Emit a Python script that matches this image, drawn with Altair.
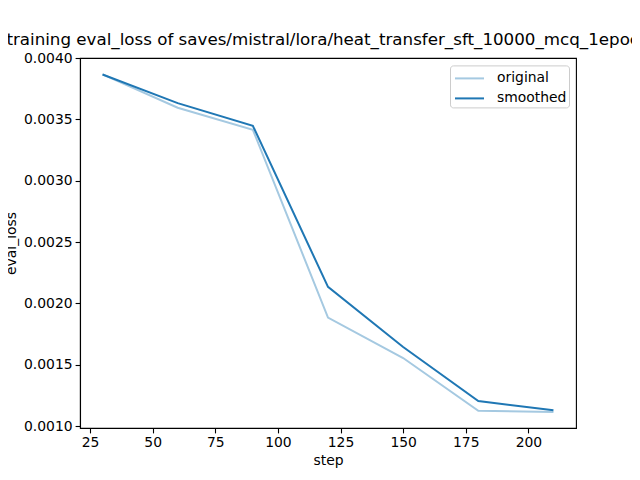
import altair as alt
import pandas as pd

steps = [30, 60, 90, 120, 150, 180, 210]
original = [0.003866, 0.003595, 0.003415, 0.001885, 0.001555, 0.001125, 0.001115]
smoothed = [0.003866, 0.003632, 0.003448, 0.002135, 0.001645, 0.001205, 0.001130]
series = ["original", "smoothed"]
colors = ["#a5c9e1", "#1f77b4"]
x_ticks = [25, 50, 75, 100, 125, 150, 175, 200]
y_ticks = [0.0010, 0.0015, 0.0020, 0.0025, 0.0030, 0.0035, 0.0040]

rows = []
for name, vals in zip(series, [original, smoothed]):
    for s, v in zip(steps, vals):
        rows.append({"step": s, "eval_loss": v, "series": name})
df = pd.DataFrame(rows)

font = "DejaVu Sans"

chart = alt.Chart(df).mark_line(strokeWidth=2).encode(
    x=alt.X("step:Q",
            scale=alt.Scale(domain=[21, 219], nice=False, zero=False),
            axis=alt.Axis(values=x_ticks, title="step", grid=False, format="d")),
    y=alt.Y("eval_loss:Q",
            scale=alt.Scale(domain=[0.000985, 0.0040], nice=False, zero=False),
            axis=alt.Axis(values=y_ticks, title="eval_loss", grid=False, format=".4f")),
    color=alt.Color("series:N",
                    scale=alt.Scale(domain=series, range=colors),
                    legend=alt.Legend(title=None, orient="none", legendX=370, legendY=7.4,
                                      symbolType="M-1.45,0H1.45", symbolSize=400, symbolStrokeWidth=2,
                                      symbolOffset=6.5,
                                      labelFontSize=13.9, labelFont=font, labelColor="black",
                                      fillColor="white", strokeColor="#cccccc", cornerRadius=3,
                                      padding=2, rowPadding=2, labelOffset=16.5)),
    order=alt.Order("series:N"),
    detail="series:N",
).properties(
    width=496, height=370,
    title=alt.TitleParams("training eval_loss of saves/mistral/lora/heat_transfer_sft_10000_mcq_1epoch",
                          fontSize=16.7, font=font, fontWeight="normal", color="black",
                          anchor="middle", offset=2),
    autosize=alt.AutoSizeParams(type="none"),
    padding={"left": 72, "top": 50, "right": 56, "bottom": 45},
).configure_view(
    stroke="black", strokeWidth=1.1
).configure_axis(
    domainColor="black", domainWidth=1.1, tickColor="black", tickSize=4.9, tickWidth=1.1,
    labelFont=font, labelFontSize=13.9, labelColor="black", labelPadding=3,
    titleFont=font, titleFontSize=13.9, titleColor="black", titleFontWeight="normal",
).configure_axisY(titlePadding=5).configure_axisX(titlePadding=4)

chart.save("out.html", embed_options={"renderer": "svg", "actions": False})
